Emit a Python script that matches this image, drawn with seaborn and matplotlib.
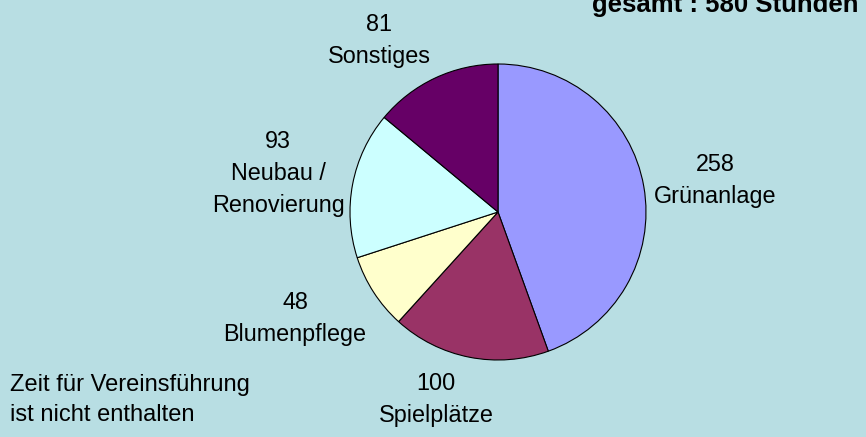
import matplotlib
matplotlib.use("Agg")
import matplotlib.pyplot as plt
import seaborn as sns

# Stunden je Bereich (im Uhrzeigersinn ab 12 Uhr)
categories = ["Grünanlage", "Spielplätze", "Blumenpflege", "Neubau /\nRenovierung", "Sonstiges"]
hours = [258, 100, 48, 93, 81]
slice_colors = ["#9999FF", "#993366", "#FFFFCC", "#CCFFFF", "#660066"]
title_text = "gesamt : 580 Stunden"
note_text = "Zeit für Vereinsführung\nist nicht enthalten"

W, H = 866, 437
bg = "#B8DEE3"

sns.set_style("white")
plt.rcParams["font.family"] = ["Liberation Sans", "DejaVu Sans"]
plt.rcParams["text.color"] = "black"

fig = plt.figure(figsize=(W / 100, H / 100), dpi=100, facecolor=bg)
ax = fig.add_axes([0, 0, 1, 1])
ax.set_facecolor(bg)

palette = sns.color_palette(slice_colors)
ax.pie(hours, colors=palette, startangle=90, counterclock=False,
       center=(498, H - 212), radius=148, frame=True,
       wedgeprops=dict(edgecolor="black", linewidth=0.8))
ax.set_xlim(0, W)
ax.set_ylim(0, H)
ax.set_aspect("equal")
ax.axis("off")

# Beschriftungen (x-Mitte, Grundlinie der letzten Zeile in Bildpixeln)
label_pos = [(715, 203), (436, 422), (295, 341), (278, 212), (379, 63)]
for cat, val, (x, y) in zip(categories, hours, label_pos):
    ax.text(x, H - y, f"{val}\n{cat}", ha="center", va="baseline",
            multialignment="center", fontsize=16.8, linespacing=1.5)

ax.text(10, H - 421, note_text, ha="left", va="baseline", fontsize=17, linespacing=1.5)
fig.text(858 / W, 1 - 12 / H, title_text, ha="right", va="baseline",
         fontsize=18.5, fontweight="bold")

fig.savefig("out.png", dpi=100, facecolor=bg)
